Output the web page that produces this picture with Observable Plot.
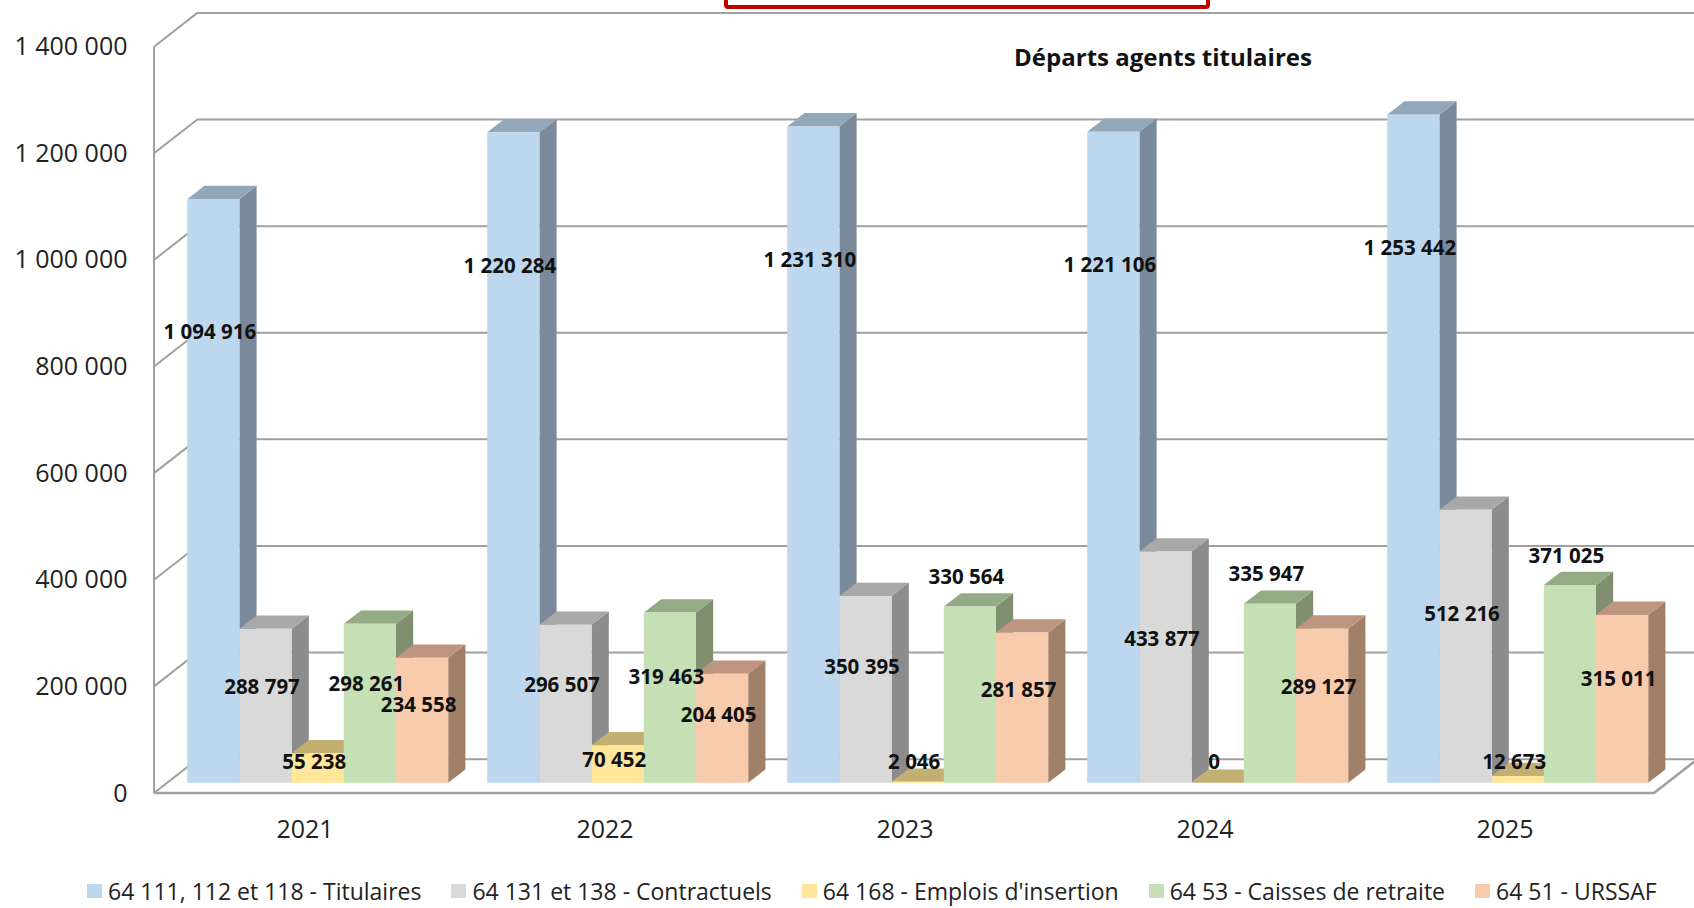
<!DOCTYPE html>
<html><head><meta charset="utf-8">
<script src="https://cdn.jsdelivr.net/npm/d3@7"></script>
<script src="https://cdn.jsdelivr.net/npm/@observablehq/plot@0.6"></script>
<style>
body{margin:0;background:#fff;}
#wrap{position:relative;width:1694px;height:908px;overflow:hidden;font-family:"Open Sans",sans-serif;background:#fff;}
#chart{position:absolute;left:0;top:0;}
#title{position:absolute;left:1163px;top:40px;transform:translateX(-50%);font-weight:700;font-size:24px;color:#111;white-space:nowrap;}
#redbox{position:absolute;left:724px;top:-46px;width:478px;height:47px;border:4px solid #C00000;border-radius:4px;}
#legend{position:absolute;left:87px;top:875px;display:flex;gap:30px;font-size:23px;color:#222;white-space:nowrap;}
.item{display:flex;align-items:center;gap:6px}
.sw{width:15px;height:14px;display:inline-block}
</style></head>
<body>
<div id="wrap">
  <div id="chart"></div>
  <div id="redbox"></div>
  <div id="title"></div>
  <div id="legend"></div>
</div>
<script>
// ---- data ----
const years = ["2021", "2022", "2023", "2024", "2025"];
const series = [
  "64 111, 112 et 118 - Titulaires",
  "64 131 et 138 - Contractuels",
  "64 168 - Emplois d'insertion",
  "64 53 - Caisses de retraite",
  "64 51 - URSSAF"
];
const titulaires   = [1094916, 1220284, 1231310, 1221106, 1253442];
const contractuels = [288797, 296507, 350395, 433877, 512216];
const insertion    = [55238, 70452, 2046, 0, 12673];
const retraite     = [298261, 319463, 330564, 335947, 371025];
const urssaf       = [234558, 204405, 281857, 289127, 315011];
const yTicks = [0, 200000, 400000, 600000, 800000, 1000000, 1200000, 1400000];
const chartTitle = "Départs agents titulaires";

// ---- style ----
const frontColors = ["#BDD7EE", "#D9D9D9", "#FFE699", "#C5E0B4", "#F8CBAD"];
const sideColors  = ["#7A8A9B", "#8C8C8C", "#B3A26C", "#7F8F6F", "#A08069"];
const topColors   = ["#93A7BA", "#A8A8A8", "#C4AF72", "#95AB86", "#BD9580"];
const W = 1694, H = 860, mL = 154, mR = 40, mT = 46.7, mB = 67;
const padInner = 0.13;
const step = (W - mL - mR) / years.length;
const bandW = step * (1 - padInner);
const bw = bandW / series.length;
const front = [13.2, -10.2];   // bars sit this far behind the front plane
const depth = [17.2, -13.3];   // bar depth
const wall = [44, -34.3];      // back wall offset
const gridColor = "#A0A0A0";

const fmt = v => d3.format(",")(v).replace(/,/g, " ");

const seriesValues = [titulaires, contractuels, insertion, retraite, urssaf];
const rows = seriesValues.map((vals, i) => years.map((y, j) => ({year: y, value: vals[j], s: i})));

// label placement rule: inside the bar, lifted above the bar when it would collide with its neighbour
const labelBase = v => Math.max(v - Math.min(0.38 * v, 250000), 40000);
years.forEach((y, j) => {
  const L = seriesValues.map(vals => labelBase(vals[j]));
  for (let i = 0; i < L.length - 1; i++) {
    const a = seriesValues[i][j], b = seriesValues[i + 1][j];
    if (Math.min(a, b) > 100000 && Math.abs(L[i] - L[i + 1]) < 36000) {
      if (a >= b) L[i] = a + 55000; else L[i + 1] = b + 55000;
    }
  }
  L.forEach((l, i) => rows[i][j].labelAt = l);
});

const plot = Plot.plot({
  width: W, height: H,
  marginLeft: mL, marginRight: mR, marginTop: mT, marginBottom: mB,
  style: {fontFamily: "'Open Sans', sans-serif", fontSize: "25px", color: "#222", background: "transparent", overflow: "visible"},
  x: {domain: years, paddingInner: padInner, paddingOuter: padInner / 2, tickSize: 0, tickPadding: 27, label: null},
  y: {domain: [0, 1400000], ticks: yTicks, tickFormat: fmt, tickSize: 0, tickPadding: 27, label: null},
  marks: [
    Plot.ruleY(yTicks, {stroke: gridColor, strokeWidth: 2, dx: wall[0], dy: wall[1]}),
    ...rows.map((r, i) => Plot.barY(r, {
      x: "year", y: "value", fill: frontColors[i],
      insetLeft: i * bw, insetRight: (series.length - 1 - i) * bw,
      ariaDescription: "front"
    })),
    ...rows.map((r, i) => Plot.text(r, {
      x: "year", y: "labelAt", text: d => fmt(d.value),
      dx: front[0] + (i + 0.5) * bw - bandW / 2 - 4, dy: front[1],
      fontWeight: "bold", fontSize: 20.5, fill: "#111"
    }))
  ]
});
document.getElementById("chart").appendChild(plot);

// ---- 3D decoration from Plot's own scales ----
const ns = "http://www.w3.org/2000/svg";
let yv;
try { const ys = plot.scale("y"); yv = v => ys.apply(v); }
catch (e) { yv = v => (H - mB) - v / 1400000 * (H - mB - mT); }

let fronts = Array.from(plot.querySelectorAll('g[aria-description="front"]'));
if (!fronts.length) fronts = Array.from(plot.querySelectorAll('g[aria-label="bar"]'));
const firstBar = fronts[0];
const parent = firstBar.parentNode;

const walls = document.createElementNS(ns, "g");
parent.insertBefore(walls, firstBar);
const wg = d3.select(walls).attr("stroke", gridColor).attr("stroke-width", 2).attr("fill", "none");
yTicks.forEach(v => wg.append("line")
  .attr("x1", mL).attr("y1", yv(v)).attr("x2", mL + wall[0]).attr("y2", yv(v) + wall[1]));
wg.append("line").attr("x1", mL).attr("y1", yv(0)).attr("x2", mL).attr("y2", yv(yTicks[yTicks.length - 1]));
wg.append("polyline").attr("stroke-width", 2.5).attr("points",
  [[mL, yv(0)], [W - mR, yv(0)], [W - mR + wall[0], yv(0) + wall[1]]].join(" "));

const bars = document.createElementNS(ns, "g");
bars.setAttribute("transform", `translate(${front[0]},${front[1]})`);
parent.insertBefore(bars, firstBar);
const items = [];
fronts.forEach((g, i) => g.querySelectorAll("rect").forEach(r => items.push({r, i, g})));
items.sort((a, b) => (+a.r.getAttribute("x")) - (+b.r.getAttribute("x")));
items.forEach(({r, i, g}) => {
  const x = +r.getAttribute("x"), y = +r.getAttribute("y");
  const w = +r.getAttribute("width"), h = +r.getAttribute("height");
  const gi = d3.select(bars).append("g");
  if (g.getAttribute("transform")) gi.attr("transform", g.getAttribute("transform"));
  const xR = x + w, yB = y + h;
  gi.append("polygon").attr("fill", sideColors[i]).attr("points",
    [[xR, yB], [xR, y], [xR + depth[0], y + depth[1]], [xR + depth[0], yB + depth[1]]].join(" "));
  gi.append("polygon").attr("fill", topColors[i]).attr("points",
    [[x, y], [xR, y], [xR + depth[0], y + depth[1]], [x + depth[0], y + depth[1]]].join(" "));
  r.setAttribute("fill", frontColors[i]);
  gi.node().appendChild(r);
});
fronts.forEach(g => g.remove());

// ---- title & legend ----
document.getElementById("title").textContent = chartTitle;
const lg = d3.select("#legend");
series.forEach((s, i) => {
  const it = lg.append("div").attr("class", "item");
  it.append("span").attr("class", "sw").style("background", frontColors[i]);
  it.append("span").text(s);
});
</script>
</body></html>
